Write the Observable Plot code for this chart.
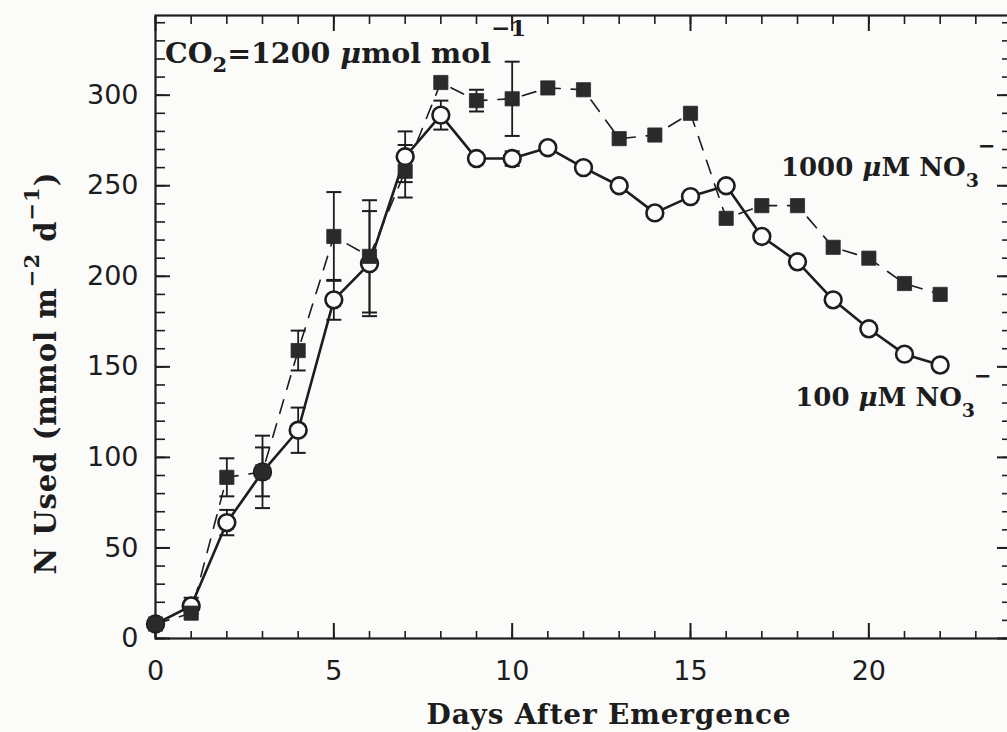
<!DOCTYPE html>
<html>
<head>
<meta charset="utf-8">
<script src="https://cdn.jsdelivr.net/npm/d3@7"></script>
<script src="https://cdn.jsdelivr.net/npm/@observablehq/plot@0.6"></script>
<style>
  html, body { margin: 0; padding: 0; background: #fbfbf9; overflow: hidden; }
  #chart { width: 1007px; height: 732px; overflow: hidden; position: relative; }
  #chart svg { display: block; max-width: none !important; width: 1015px !important; height: 732px !important; }
</style>
</head>
<body>
<div id="chart"></div>
<script>
// Daily nitrogen uptake under elevated CO2 for two nitrate supply levels
const days = [0, 1, 2, 3, 4, 5, 6, 7, 8, 9, 10, 11, 12, 13, 14, 15, 16, 17, 18, 19, 20, 21, 22];
const n100 = [8, 18, 64, 92, 115, 187, 207, 266, 289, 265, 265, 271, 260, 250, 235, 244, 250, 222, 208, 187, 171, 157, 151];
const n1000 = [8, 14, 89, 92, 159, 222, 211, 258, 307, 297, 298, 304, 303, 276, 278, 290, 232, 239, 239, 216, 210, 196, 190];
// half-widths of the error bars (0 = no bar drawn)
const err100 = [0, 4.5, 7, 13.5, 12.5, 11, 29, 14, 8, 0, 4, 0, 0, 0, 0, 0, 0, 0, 0, 0, 0, 0, 0];
const err1000 = [0, 0, 10.5, 20, 11, 24.5, 31, 14.5, 0, 6, 20.5, 0, 0, 0, 0, 0, 0, 0, 0, 0, 0, 0, 0];

const xMajor = [0, 5, 10, 15, 20];
const xMinor = d3.range(0, 25);
const yMajor = [0, 50, 100, 150, 200, 250, 300];
const yMinor = d3.range(0, 345, 10);

const ink = "#1d1d1d";
const paper = "#fbfbf9";
const tickFont = "'DejaVu Sans', sans-serif";
const serif = "'DejaVu Serif', serif";

const toRows = (vals, errs) => days.map((d, i) => ({day: d, value: vals[i], err: errs[i]}));
const low = toRows(n100, err100);
const high = toRows(n1000, err1000);
const bars = [...low, ...high].filter(d => d.err > 0);
const capHalf = 0.21;

const blank = () => "";
const chart = Plot.plot({
  width: 1015,
  height: 732,
  marginLeft: 155,
  marginRight: 4,
  marginTop: 15,
  marginBottom: 94,
  x: {domain: [0, 24], label: null},
  y: {domain: [0, 344], label: null},
  style: {background: "transparent", color: ink, fontFamily: tickFont},
  marks: [
    // inward ticks on all four sides
    Plot.axisX({anchor: "bottom", ticks: xMinor, tickSize: -7, tickFormat: blank, strokeWidth: 1.6, label: null}),
    Plot.axisX({anchor: "bottom", ticks: xMajor, tickSize: -15, tickFormat: blank, strokeWidth: 2, label: null}),
    Plot.axisX({anchor: "top", ticks: xMinor, tickSize: -8, tickFormat: blank, strokeWidth: 1.6, label: null}),
    Plot.axisX({anchor: "top", ticks: xMajor, tickSize: -15, tickFormat: blank, strokeWidth: 2, label: null}),
    Plot.axisY({anchor: "left", ticks: yMinor, tickSize: -10, tickFormat: blank, strokeWidth: 1.6, label: null}),
    Plot.axisY({anchor: "left", ticks: yMajor, tickSize: -15, tickFormat: blank, strokeWidth: 2, label: null}),
    Plot.axisY({anchor: "right", ticks: yMinor, tickSize: -10, tickFormat: blank, strokeWidth: 1.6, label: null}),
    Plot.axisY({anchor: "right", ticks: yMajor, tickSize: -15, tickFormat: blank, strokeWidth: 2, label: null}),
    // tick labels
    Plot.axisX({anchor: "bottom", ticks: xMajor, tickSize: 0, tickPadding: 22, fontSize: 27, label: null}),
    Plot.axisY({anchor: "left", ticks: yMajor, tickSize: 0, tickPadding: 17, fontSize: 27, label: null}),
    Plot.frame({stroke: ink, strokeWidth: 2.2}),
    // error bars
    Plot.ruleX(bars, {x: "day", y1: d => d.value - d.err, y2: d => d.value + d.err, stroke: ink, strokeWidth: 1.8}),
    Plot.link(bars, {x1: d => d.day - capHalf, x2: d => d.day + capHalf, y1: d => d.value - d.err, y2: d => d.value - d.err, stroke: ink, strokeWidth: 2}),
    Plot.link(bars, {x1: d => d.day - capHalf, x2: d => d.day + capHalf, y1: d => d.value + d.err, y2: d => d.value + d.err, stroke: ink, strokeWidth: 2}),
    // series lines
    Plot.line(high, {x: "day", y: "value", stroke: ink, strokeWidth: 1.6, strokeDasharray: "14,11"}),
    Plot.line(low, {x: "day", y: "value", stroke: ink, strokeWidth: 2.6}),
    // markers
    Plot.dot(low, {x: "day", y: "value", r: 8.4, fill: paper, stroke: ink, strokeWidth: 2.6}),
    Plot.dot(high, {x: "day", y: "value", symbol: "square", r: 8, fill: "#2a2a2a", stroke: "#2a2a2a", strokeWidth: 0.8})
  ]
});

document.getElementById("chart").appendChild(chart);

// annotations with sub- and superscripts
const svg = d3.select(chart);
const xs = chart.scale("x");
const ys = chart.scale("y");

function richText(x, y, parts, {size = 26, anchor = "start", transform = null, spacing = 0} = {}) {
  const t = svg.append("text")
    .attr("fill", ink)
    .attr("font-family", serif)
    .attr("font-weight", "bold")
    .attr("font-size", size)
    .attr("letter-spacing", spacing)
    .attr("text-anchor", anchor);
  if (transform) t.attr("transform", transform);
  else t.attr("x", x).attr("y", y);
  let prev = 0;
  for (const p of parts) {
    const shift = p.shift || 0;
    const s = t.append("tspan").text(p.t).attr("dy", shift - prev);
    if (p.size) s.attr("font-size", p.size);
    if (p.italic) s.attr("font-style", "italic");
    if (p.dx) s.attr("dx", p.dx);
    prev = shift;
  }
  return t;
}

// CO2 condition, top-left inside the frame
richText(xs.apply(0) + 10, ys.apply(344) + 48, [
  {t: "CO"}, {t: "2", shift: 9, size: 21}, {t: "=1200 "},
  {t: "\u03bc", italic: true}, {t: "mol mol"},
  {t: "\u22121", shift: -27, size: 23}
], {size: 28.5});

// series labels
richText(xs.apply(17.55), ys.apply(255), [
  {t: "1000 "}, {t: "\u03bc", italic: true}, {t: "M NO"},
  {t: "3", shift: 11, size: 19}, {t: "\u2212", shift: -23, size: 21, dx: -1}
], {size: 26});

richText(xs.apply(17.95), ys.apply(128), [
  {t: "100 "}, {t: "\u03bc", italic: true}, {t: "M NO"},
  {t: "3", shift: 11, size: 19}, {t: "\u2212", shift: -23, size: 21, dx: -1}
], {size: 26});

// axis titles
richText(609, 724, [{t: "Days After Emergence"}], {size: 28, anchor: "middle", spacing: 0.8});
richText(0, 0, [
  {t: "N Used (mmol m"}, {t: "\u22122", shift: -17, size: 21},
  {t: " d", shift: 0}, {t: "\u22121", shift: -17, size: 21}, {t: ")", shift: 0}
], {size: 29, anchor: "middle", spacing: 1, transform: "translate(56,373) rotate(-90)"});
</script>
</body>
</html>
